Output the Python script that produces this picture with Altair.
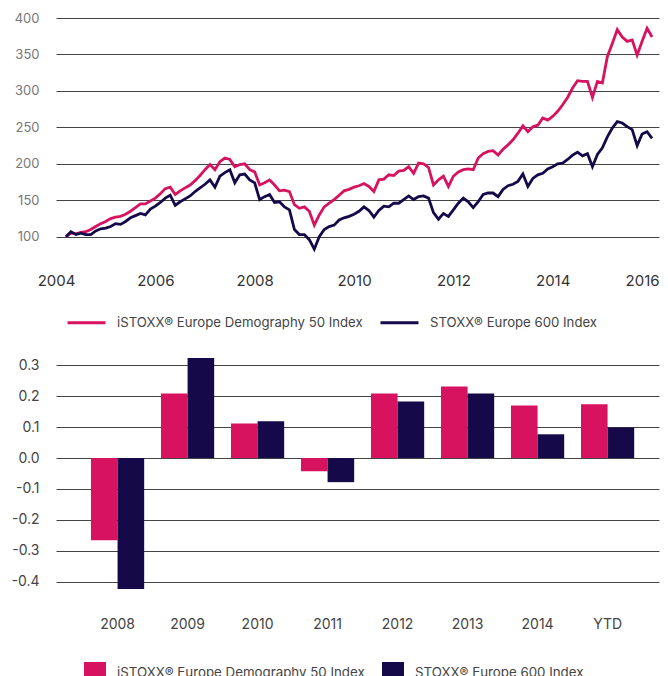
import altair as alt
import pandas as pd

S1 = "iSTOXX® Europe Demography 50 Index"
S2 = "STOXX® Europe 600 Index"
PINK = "#D7135F"
NAVY = "#16094A"

# --- top chart: index levels read every 0.1 year from 2004.2 to 2016.0 ---
start_year = 2004.2
step_year = 0.1
pink_level = [
    100, 105, 104, 106, 107, 110, 114, 118,
    121, 125, 127, 128, 131, 135, 140, 145, 145, 149,
    153, 159, 166, 168, 158, 163, 167, 171, 177, 184,
    192, 199, 192, 203, 208, 206, 196, 199, 200, 192,
    189, 171, 174, 178, 171, 163, 164, 162, 144, 139,
    141, 135, 116, 130, 141, 146, 151, 157, 163, 165,
    168, 170, 173, 169, 162, 178, 179, 185, 184, 190,
    191, 196, 187, 201, 200, 195, 171, 178, 183, 169,
    183, 189, 192, 193, 192, 208, 214, 217, 218, 212,
    220, 226, 233, 242, 252, 244, 251, 253, 263, 260,
    265, 272, 281, 291, 304, 314, 313, 313, 291, 313,
    311, 347, 365, 384, 374, 368, 370, 349, 368, 386,
    374,
]
navy_level = [
    100, 107, 103, 105, 103, 103, 108, 111,
    112, 114, 118, 117, 121, 126, 129, 132, 130, 138,
    142, 147, 153, 157, 143, 148, 152, 156, 162, 167,
    172, 178, 168, 183, 188, 192, 174, 185, 186, 178,
    174, 151, 155, 158, 147, 148, 141, 137, 110, 103,
    103, 96, 83, 100, 110, 114, 116, 123, 126, 128,
    131, 135, 141, 136, 127, 136, 142, 141, 146, 146,
    151, 156, 151, 155, 156, 153, 133, 124, 132, 128,
    137, 146, 153, 148, 140, 148, 158, 160, 160, 155,
    165, 170, 172, 176, 186, 169, 180, 185, 187, 193,
    196, 200, 201, 206, 212, 216, 211, 214, 196, 213,
    222, 237, 249, 258, 256, 251, 247, 225, 241, 244,
    235,
]
year_ticks = [2004, 2006, 2008, 2010, 2012, 2014, 2016]
level_ticks = [100, 150, 200, 250, 300, 350, 400]

# --- bottom chart: annual returns ---
periods = ["2008", "2009", "2010", "2011", "2012", "2013", "2014", "YTD"]
pink_ret = [-0.266, 0.209, 0.112, -0.043, 0.209, 0.232, 0.170, 0.174]
navy_ret = [-0.424, 0.324, 0.119, -0.078, 0.183, 0.209, 0.077, 0.099]
ret_ticks = [-0.4, -0.3, -0.2, -0.1, 0.0, 0.1, 0.2, 0.3]

n = len(pink_level)
years = [round(start_year + step_year * i, 1) for i in range(n)]
top_df = pd.DataFrame({
    "year": years + years,
    "value": pink_level + navy_level,
    "series": [S1] * n + [S2] * len(navy_level),
})

bot_df = pd.DataFrame({
    "period": periods + periods,
    "value": pink_ret + navy_ret,
    "series": [S1] * len(periods) + [S2] * len(periods),
})

color_scale = alt.Scale(domain=[S1, S2], range=[PINK, NAVY])

top = alt.Chart(top_df).mark_line(strokeWidth=2.8).encode(
    x=alt.X("year:Q",
            scale=alt.Scale(domain=[2004, 2016.14], nice=False, zero=False),
            axis=alt.Axis(values=year_ticks, format="d", title=None, grid=False,
                          ticks=False, domain=False, labelPadding=18, labelFlush=False,
                          labelOffset={"condition": {"test": "datum.value == 2016", "value": -10},
                                       "value": 0},
                          labelFontSize=15, labelColor="#333333")),
    y=alt.Y("value:Q",
            scale=alt.Scale(domain=[75, 400], nice=False, zero=False),
            axis=alt.Axis(values=level_ticks, title=None, ticks=False, domain=False,
                          labelPadding=17, labelFontSize=13, labelColor="#777777",
                          gridColor="#444444", gridWidth=1.2)),
    color=alt.Color("series:N", scale=color_scale,
                    legend=alt.Legend(title=None, orient="none", legendX=10, legendY=284,
                                      direction="horizontal", symbolType="stroke",
                                      symbolStrokeWidth=3, symbolSize=1444,
                                      labelFontSize=13.2, labelColor="#444444",
                                      labelOffset=10, columnPadding=11,
                                      labelLimit=400)),
    order=alt.Order("year:Q"),
).properties(width=603, height=237)

bottom = alt.Chart(bot_df).mark_bar().encode(
    x=alt.X("period:N", sort=periods,
            scale=alt.Scale(paddingInner=0.24, paddingOuter=0.427, align=0.585),
            axis=alt.Axis(title=None, labelAngle=0, ticks=False, domain=False,
                          labelPadding=20, labelFontSize=14, labelColor="#444444")),
    xOffset=alt.XOffset("series:N", sort=[S1, S2]),
    y=alt.Y("value:Q",
            scale=alt.Scale(domain=[-0.45, 0.35], nice=False, zero=False),
            axis=alt.Axis(values=ret_ticks, title=None, ticks=False, domain=False,
                          labelExpr="(datum.value < 0 ? '-' : '') + format(abs(datum.value), '.1f')",
                          labelPadding=17, labelFontSize=14, labelColor="#444444",
                          gridColor="#444444", gridWidth=1.2)),
    color=alt.Color("series:N", scale=color_scale,
                    legend=alt.Legend(title=None, orient="none", legendX=28, legendY=312,
                                      direction="horizontal", symbolType="square",
                                      symbolSize=484, symbolStrokeWidth=0,
                                      labelFontSize=13.3, labelColor="#444444",
                                      labelOffset=11, columnPadding=17,
                                      labelLimit=400)),
).properties(width=603, height=247)

chart = alt.vconcat(top, bottom, spacing=21).resolve_scale(
    color="independent"
).resolve_legend(color="independent").properties(
    padding={"left": 3, "top": 4, "right": 0, "bottom": 0}
).configure(font="Inter").configure_view(stroke=None)

chart.save("out.html", embed_options={"renderer": "svg", "actions": False})
